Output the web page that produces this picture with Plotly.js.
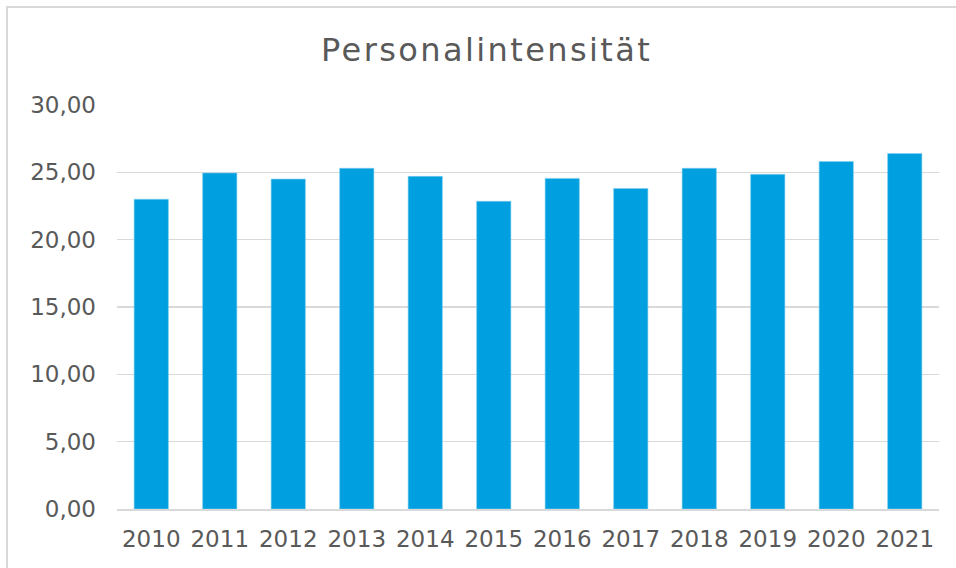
<!DOCTYPE html>
<html>
<head>
<meta charset="utf-8">
<script src="https://cdn.plot.ly/plotly-3.0.1.min.js"></script>
<style>
html,body{margin:0;padding:0;background:#fff;overflow:hidden;}
#frame{position:absolute;left:6px;top:6px;width:1000px;height:1000px;border:2px solid #d9d9d9;box-sizing:border-box;}
#chart{position:absolute;left:0;top:0;width:956px;height:568px;}
#chart .gtitle{letter-spacing:2.4px;}
</style>
</head>
<body>
<div id="frame"></div>
<div id="chart"></div>
<script>
const years = ["2010","2011","2012","2013","2014","2015","2016","2017","2018","2019","2020","2021"];
const personalintensitaet = [23.0, 24.95, 24.5, 25.3, 24.7, 22.85, 24.55, 23.8, 25.3, 24.85, 25.8, 26.4];
const yTickVals = [0, 5, 10, 15, 20, 25, 30];
const yTickText = ["0,00","5,00","10,00","15,00","20,00","25,00","30,00"];
const chartTitle = "Personalintensität";

const trace = {
  type: "bar",
  x: years,
  y: personalintensitaet,
  marker: {color: "#009FDF", line: {color: "#7fcff0", width: 0.6}},
  hoverinfo: "x+y"
};

const layout = {
  width: 956,
  height: 568,
  paper_bgcolor: "rgba(0,0,0,0)",
  plot_bgcolor: "rgba(0,0,0,0)",
  margin: {l: 117, r: 17, t: 105, b: 58.5},
  bargap: 0.5,
  showlegend: false,
  font: {family: "DejaVu Sans, Verdana, sans-serif", color: "#595959"},
  title: {
    text: chartTitle,
    font: {size: 32, color: "#595959", family: "DejaVu Sans, Verdana, sans-serif"},
    xref: "container", x: 0.509, xanchor: "center",
    yref: "container", y: 1 - 50/568, yanchor: "middle"
  },
  xaxis: {
    type: "category",
    showgrid: false,
    showline: true,
    linecolor: "#d9d9d9",
    linewidth: 2,
    ticks: "",
    tickfont: {size: 23, color: "#595959"},
    ticklabelstandoff: 8
  },
  yaxis: {
    range: [0, 30],
    tickvals: yTickVals,
    ticktext: yTickText,
    showgrid: true,
    gridcolor: "#d9d9d9",
    gridwidth: 1.5,
    zeroline: false,
    showline: false,
    ticks: "",
    tickfont: {size: 23, color: "#595959"},
    ticklabelstandoff: 20
  }
};

Plotly.newPlot("chart", [trace], layout, {displayModeBar: false, staticPlot: true});
</script>
</body>
</html>
